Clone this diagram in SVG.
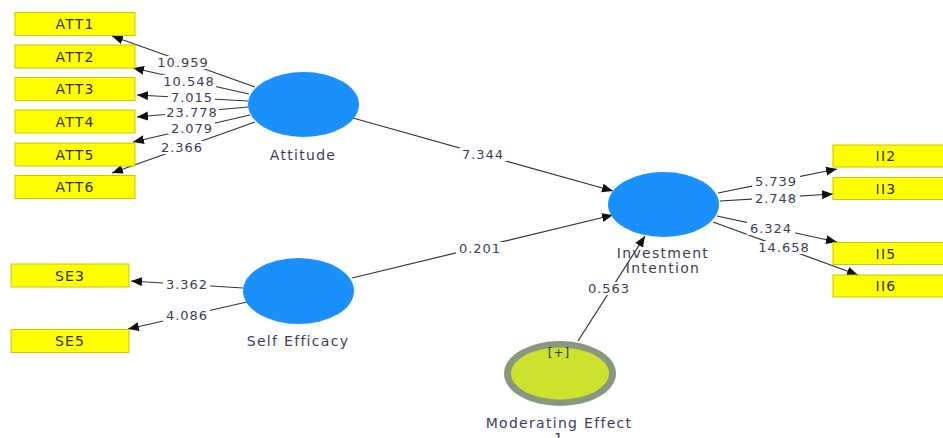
<svg xmlns="http://www.w3.org/2000/svg" width="943" height="438" viewBox="0 0 943 438">
<style>
.box{fill:#ffff00;stroke:#c8c800;stroke-width:1}
.bt{font-family:"DejaVu Sans",sans-serif;font-size:14px;letter-spacing:1.2px;fill:#33330a;text-anchor:middle}
.lv{fill:#1a90ff}
.nt{font-family:"DejaVu Sans",sans-serif;font-size:14px;letter-spacing:1.3px;fill:#3c3c5a;text-anchor:middle}
.ln{stroke:#333;stroke-width:1.2;fill:none;marker-end:url(#ah)}
.bg{fill:#fff}
.num{font-family:"DejaVu Sans",sans-serif;font-size:13px;letter-spacing:1px;fill:#3c3c5a;text-anchor:middle}
</style>
<defs>
<marker id="ah" markerUnits="userSpaceOnUse" markerWidth="12" markerHeight="10" refX="11" refY="4.5" orient="auto">
<path d="M0,0 L11,4.5 L0,9 z" fill="#111"/>
</marker>
</defs>
<rect width="943" height="438" fill="#fff"/>
<g id="connectors">
<line class="ln" x1="255" y1="87" x2="112" y2="36"/>
<line class="ln" x1="249" y1="94" x2="133" y2="68"/>
<line class="ln" x1="248" y1="101" x2="137" y2="95"/>
<line class="ln" x1="248" y1="107" x2="137" y2="117"/>
<line class="ln" x1="250" y1="115" x2="133" y2="142"/>
<line class="ln" x1="255" y1="122" x2="112" y2="173"/>
<line class="ln" x1="243" y1="288" x2="131" y2="281"/>
<line class="ln" x1="247" y1="302" x2="128" y2="329"/>
<line class="ln" x1="353" y1="118" x2="613" y2="191"/>
<line class="ln" x1="352" y1="278" x2="613" y2="215"/>
<line class="ln" x1="578" y1="341" x2="645" y2="236"/>
<line class="ln" x1="718" y1="193" x2="837" y2="169"/>
<line class="ln" x1="720" y1="201" x2="833" y2="194"/>
<line class="ln" x1="717" y1="216" x2="837" y2="242"/>
<line class="ln" x1="713" y1="222" x2="858" y2="275"/>
<rect class="bg" x="156" y="56" width="54" height="13"/>
<rect class="bg" x="162" y="75" width="54" height="12"/>
<rect class="bg" x="168" y="91" width="47" height="12"/>
<rect class="bg" x="165" y="106" width="54" height="12"/>
<rect class="bg" x="168" y="122" width="47" height="12"/>
<rect class="bg" x="158" y="141" width="47" height="13"/>
<rect class="bg" x="163" y="278" width="47" height="13"/>
<rect class="bg" x="163" y="309" width="47" height="13"/>
<rect class="bg" x="459" y="148" width="48" height="13"/>
<rect class="bg" x="456" y="242" width="48" height="13"/>
<rect class="bg" x="585" y="282" width="48" height="13"/>
<rect class="bg" x="752" y="175" width="48" height="12"/>
<rect class="bg" x="752" y="192" width="48" height="12"/>
<rect class="bg" x="747" y="222" width="48" height="13"/>
<rect class="bg" x="757" y="241" width="54" height="13"/>
<text class="num" x="183" y="67">10.959</text>
<text class="num" x="189" y="86">10.548</text>
<text class="num" x="192" y="102">7.015</text>
<text class="num" x="192" y="117">23.778</text>
<text class="num" x="192" y="133">2.079</text>
<text class="num" x="182" y="152">2.366</text>
<text class="num" x="187" y="289">3.362</text>
<text class="num" x="187" y="320">4.086</text>
<text class="num" x="483" y="159">7.344</text>
<text class="num" x="480" y="253">0.201</text>
<text class="num" x="609" y="293">0.563</text>
<text class="num" x="776" y="186">5.739</text>
<text class="num" x="776" y="203">2.748</text>
<text class="num" x="771" y="233">6.324</text>
<text class="num" x="784" y="252">14.658</text>
</g>
<g id="ATT1"><rect class="box" x="15" y="12.5" width="120" height="23"/><text class="bt" x="75" y="29">ATT1</text></g>
<g id="ATT2"><rect class="box" x="15" y="45" width="120" height="23"/><text class="bt" x="75" y="61.5">ATT2</text></g>
<g id="ATT3"><rect class="box" x="15" y="77.5" width="120" height="23"/><text class="bt" x="75" y="94">ATT3</text></g>
<g id="ATT4"><rect class="box" x="15" y="110" width="120" height="23"/><text class="bt" x="75" y="126.5">ATT4</text></g>
<g id="ATT5"><rect class="box" x="15" y="143" width="120" height="23"/><text class="bt" x="75" y="159.5">ATT5</text></g>
<g id="ATT6"><rect class="box" x="15" y="175.5" width="120" height="23"/><text class="bt" x="75" y="192">ATT6</text></g>
<g id="SE3"><rect class="box" x="11" y="264" width="118" height="23"/><text class="bt" x="70" y="280.5">SE3</text></g>
<g id="SE5"><rect class="box" x="11" y="329.5" width="118" height="23"/><text class="bt" x="70" y="346">SE5</text></g>
<g id="II2"><rect class="box" x="833" y="145" width="115" height="22"/><text class="bt" x="886" y="161">II2</text></g>
<g id="II3"><rect class="box" x="833" y="177.5" width="115" height="22"/><text class="bt" x="886" y="193.5">II3</text></g>
<g id="II5"><rect class="box" x="833" y="242.5" width="115" height="22"/><text class="bt" x="886" y="258.5">II5</text></g>
<g id="II6"><rect class="box" x="833" y="275" width="115" height="22"/><text class="bt" x="886" y="291">II6</text></g>
<g id="Attitude"><ellipse class="lv" cx="303.5" cy="104.5" rx="55.5" ry="32.5"/><text class="nt" x="303" y="160">Attitude</text></g>
<g id="SelfEfficacy"><ellipse class="lv" cx="298.5" cy="291" rx="55.5" ry="33"/><text class="nt" x="298" y="346">Self Efficacy</text></g>
<g id="InvestmentIntention"><ellipse class="lv" cx="663.5" cy="204.5" rx="55.5" ry="32.5"/><text class="nt" x="663" y="258">Investment</text><text class="nt" x="663" y="273">Intention</text></g>
<g id="ModeratingEffect"><ellipse cx="560" cy="373.5" rx="56" ry="32.5" fill="#879880"/><ellipse cx="560" cy="373.5" rx="49" ry="26" fill="#cde22d"/><text class="nt" x="559" y="357" style="font-size:12px;letter-spacing:1px;fill:#333">[+]</text><text class="nt" x="559" y="428">Moderating Effect</text><text class="nt" x="559" y="443">1</text></g>
</svg>
